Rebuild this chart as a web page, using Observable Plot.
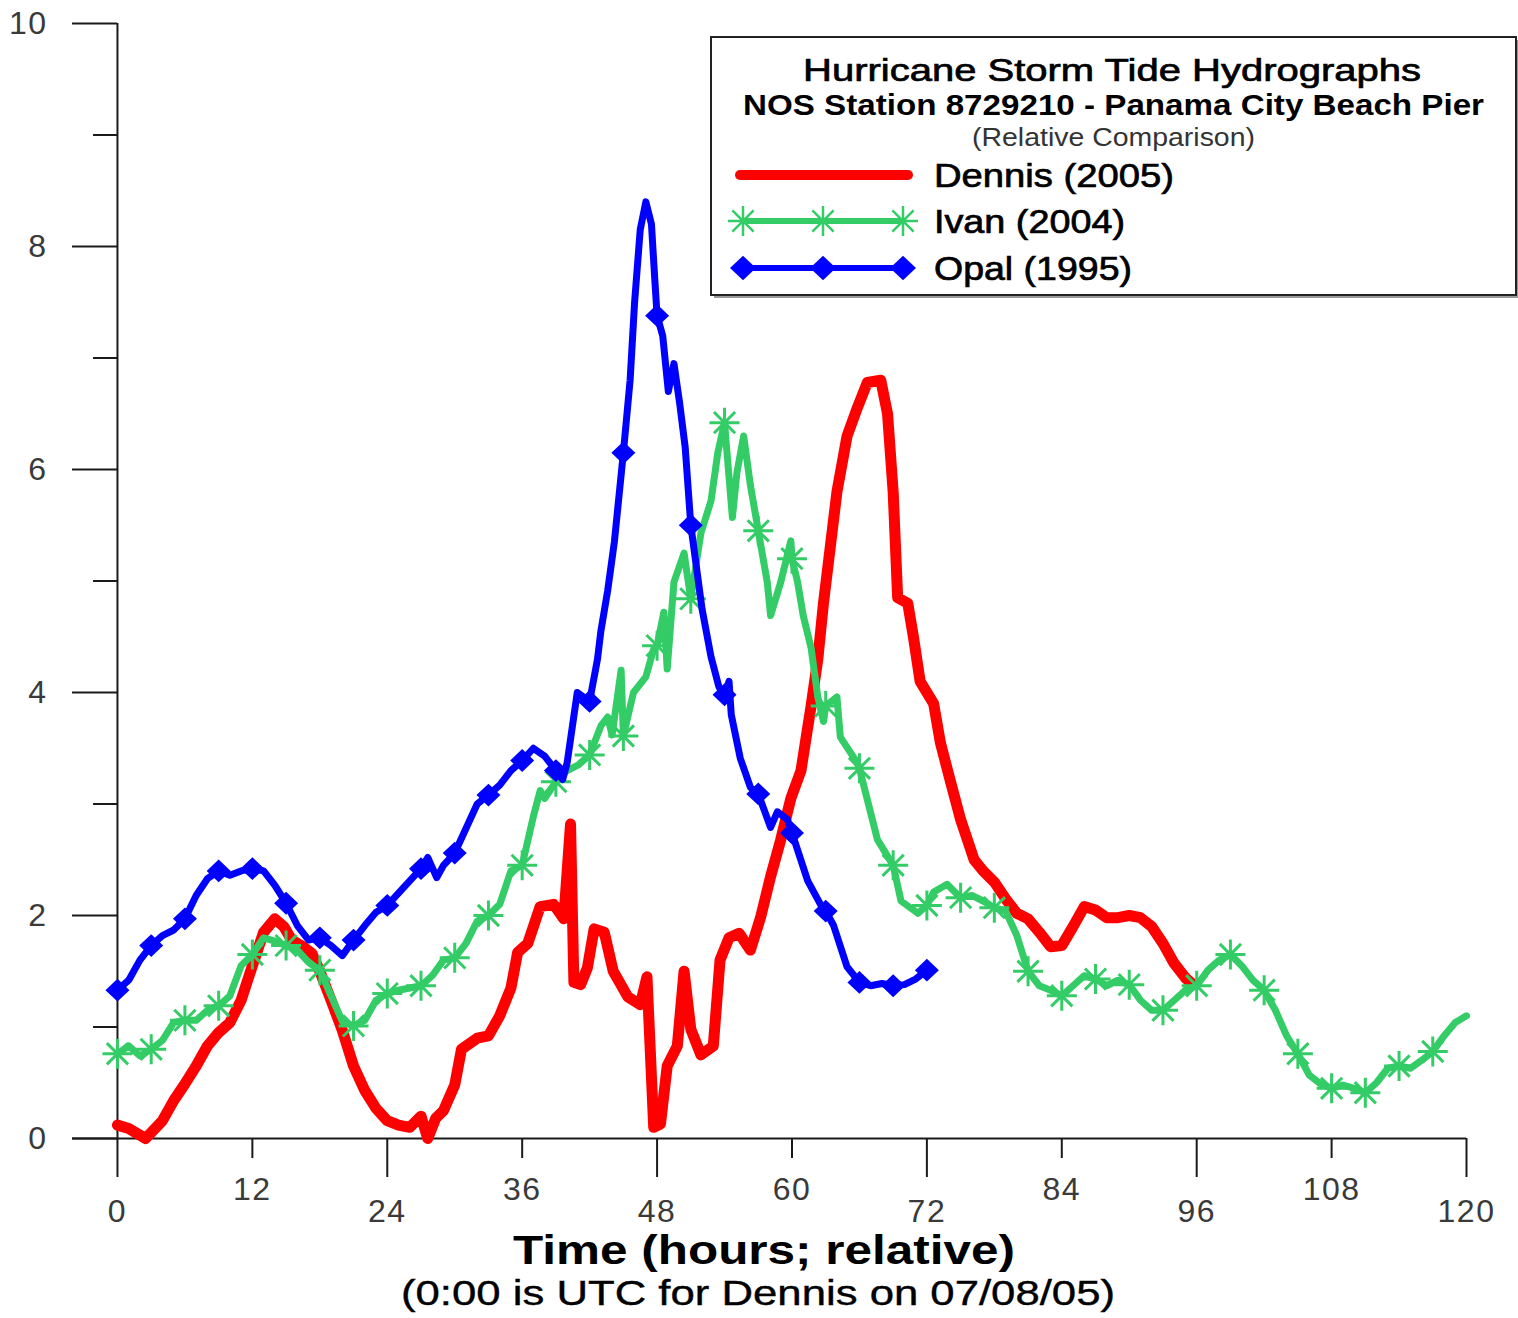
<!DOCTYPE html>
<html><head><meta charset="utf-8">
<script src="https://cdn.jsdelivr.net/npm/d3@7"></script>
<script src="https://cdn.jsdelivr.net/npm/@observablehq/plot@0.6"></script>
<style>
html,body{margin:0;padding:0;background:#fff;}
#wrap{position:relative;width:1518px;height:1318px;overflow:hidden;background:#fff;}
#overlay{position:absolute;left:0;top:0;pointer-events:none;}
</style></head><body><div id="wrap"></div>
<script>
// ---- Data ----
const seriesNames = ["Dennis (2005)", "Ivan (2004)", "Opal (1995)"];
const seriesColors = ["#ff0000", "#33cc66", "#0000ff"];

const dennisHours = [0,1,2.5,4,5,6,7,8,9,10,11,12,13,14,14.8,15.5,16.5,17.3,18,19,20,21,22,23,24,25,26,27,27.6,28.3,29,30,30.6,32,33,34,35,35.6,36.5,37.6,38.8,39.7,40.3,40.6,41.2,41.8,42.4,43.3,44.1,45.4,46.5,47.1,47.7,48.3,48.9,49.8,50.4,51,51.9,53,53.6,54.4,55.3,56.3,57.2,58.1,59,59.9,60.8,61.7,62.3,62.8,63.4,64,64.9,65.8,66.7,67.9,68.5,69,69.4,70.3,70.8,71.4,72.6,73.2,74.1,75,76.2,77,78,79,80,81,82,83,84,85,86,87,88,89,90,91,92,93,94,95,95.7];
const dennisLevels = [0.12,0.09,0.0,0.16,0.34,0.49,0.65,0.83,0.95,1.04,1.24,1.55,1.85,1.97,1.9,1.78,1.72,1.66,1.5,1.24,0.97,0.65,0.43,0.27,0.16,0.12,0.1,0.2,0.0,0.18,0.25,0.48,0.8,0.9,0.92,1.1,1.35,1.67,1.75,2.08,2.1,1.97,2.82,1.4,1.38,1.53,1.88,1.85,1.5,1.27,1.2,1.45,0.1,0.13,0.65,0.83,1.5,0.98,0.75,0.83,1.6,1.8,1.84,1.69,1.98,2.35,2.68,3.05,3.3,3.88,4.3,4.8,5.3,5.8,6.3,6.55,6.78,6.8,6.5,5.8,4.85,4.8,4.5,4.1,3.9,3.55,3.2,2.86,2.5,2.4,2.3,2.15,2.02,1.97,1.85,1.72,1.73,1.9,2.08,2.05,1.98,1.98,2.0,1.98,1.9,1.75,1.57,1.44,1.38];

const ivanHours = [0,1,2,3,4,5,6,7,8,9,10,11,12,13,14,15,16,17,18,19,20,21,22,23,24,25,26,27,28,29,30,31,32,33,34,35,36,37,37.6,38,39,40,41,42,43,43.6,44,44.8,45,45.9,47,47.7,48,48.6,48.9,49.5,50.4,51,51.9,52.8,53.4,54,54.7,55.1,55.7,56.3,57,57.8,58.1,59,59.9,60,60.5,61,61.7,62.3,62.8,63,64,64.3,65.8,66,66.7,67.6,69,69.7,71.2,72,72.6,73.8,75,76,77,78,79,80,81,82,83,84,85,86,87,88,89,90,91,92,93,94,95,96,97,98,99,100,101,102,103,104,105,106,107,108,109,110,111,112,113,114,115,116,117,118,119,120];
const ivanLevels = [0.76,0.83,0.74,0.8,0.88,1.04,1.06,1.06,1.15,1.19,1.28,1.55,1.65,1.8,1.77,1.73,1.69,1.58,1.51,1.28,1.05,1.01,1.06,1.24,1.3,1.33,1.35,1.37,1.46,1.6,1.62,1.75,1.95,2.0,2.1,2.4,2.45,2.89,3.12,3.05,3.2,3.3,3.35,3.44,3.7,3.78,3.62,4.2,3.61,4.0,4.14,4.39,4.42,4.72,4.21,4.99,5.25,4.84,5.43,5.72,6.15,6.42,5.57,5.97,6.3,5.86,5.45,4.99,4.69,4.99,5.36,5.2,4.99,4.69,4.4,3.96,3.74,3.88,3.96,3.6,3.37,3.32,3.04,2.68,2.45,2.13,2.02,2.09,2.21,2.28,2.16,2.18,2.13,2.07,2.04,1.82,1.5,1.37,1.33,1.28,1.37,1.46,1.43,1.37,1.42,1.38,1.24,1.15,1.15,1.24,1.33,1.37,1.51,1.6,1.65,1.55,1.42,1.33,1.15,0.92,0.76,0.57,0.49,0.45,0.48,0.45,0.41,0.5,0.63,0.65,0.63,0.7,0.78,0.92,1.04,1.1];
const ivanMarkerHours = [0,3,6,9,12,15,18,21,24,27,30,33,36,39,42,45,48,51,54,57,60,63,66,69,72,75,78,81,84,87,90,93,96,99,102,105,108,111,114,117];

const opalHours = [0,1,2,3,4,5,6,7,8,9,10,11,12,13,14,15,16,17,18,19,20,21,22,23,24,25,26,27,27.6,28.4,29,30,31,32,33,34,35,36,37,38,39,39.6,40,40.9,42,42.7,43,43.6,44.2,45,45.6,46,46.5,47,47.5,47.8,48,48.5,49,49.5,50,50.5,51,52,52.8,53.5,54,54.4,54.6,55.4,56.3,57,58.1,58.7,59.6,60,61.4,62.8,63,63.7,64.9,66,67,68,69,70,71,72];
const opalLevels = [1.33,1.42,1.6,1.73,1.82,1.87,1.97,2.18,2.33,2.4,2.36,2.4,2.42,2.4,2.27,2.11,1.91,1.78,1.8,1.73,1.64,1.78,1.91,2.03,2.09,2.2,2.31,2.42,2.52,2.34,2.45,2.56,2.78,3.0,3.08,3.17,3.3,3.39,3.5,3.43,3.3,3.22,3.37,4.0,3.92,4.3,4.55,4.91,5.35,6.15,6.8,7.5,8.15,8.4,8.2,7.7,7.38,7.2,6.7,6.95,6.6,6.2,5.5,4.75,4.32,4.05,3.98,4.1,3.8,3.41,3.15,3.09,2.79,2.93,2.86,2.74,2.31,2.05,2.04,1.91,1.54,1.4,1.37,1.39,1.37,1.38,1.43,1.51];
const opalMarkerHours = [0,3,6,9,12,15,18,21,24,27,30,33,36,39,42,45,48,51,54,57,60,63,66,69,72];

const xMajorTicks = [0,24,48,72,96,120];
const xMinorTicks = [12,36,60,84,108];
const yMajorTicks = [0,2,4,6,8,10];
const yMinorTicks = [1,3,5,7,9];

const legendTitle = "Hurricane Storm Tide Hydrographs";
const legendSubtitle = "NOS Station 8729210 - Panama City Beach Pier";
const legendNote = "(Relative Comparison)";
const xTitle = "Time (hours; relative)";
const xSubtitle = "(0:00 is UTC for Dennis on 07/08/05)";

// ---- Build ----
const W = 1518, H = 1318;
const rows = (hs, vs) => hs.map((h, i) => ({h, v: vs[i]}));
const dennis = rows(dennisHours, dennisLevels);
const ivan = rows(ivanHours, ivanLevels);
const opal = rows(opalHours, opalLevels);
const ivanMarks = ivan.filter(d => ivanMarkerHours.includes(d.h));
const opalMarks = opal.filter(d => opalMarkerHours.includes(d.h));

const asteriskSymbol = {draw(ctx, size) {
  const r = Math.sqrt(size / Math.PI), k = r * Math.SQRT1_2;
  ctx.moveTo(-r, 0); ctx.lineTo(r, 0);
  ctx.moveTo(0, -r); ctx.lineTo(0, r);
  ctx.moveTo(-k, -k); ctx.lineTo(k, k);
  ctx.moveTo(-k, k); ctx.lineTo(k, -k);
}};
const diamondSymbol = {draw(ctx, size) {
  const r = Math.sqrt(size / Math.PI);
  ctx.moveTo(0, -r * 0.95); ctx.lineTo(r, 0); ctx.lineTo(0, r * 0.95); ctx.lineTo(-r, 0); ctx.closePath();
}};

const axisInk = "#1a1a1a", labelInk = "#3a3a3a";
const chart = Plot.plot({
  width: W, height: H,
  marginLeft: 72, marginRight: 52, marginTop: 23, marginBottom: 180,
  x: {domain: [-4, 120]},
  y: {domain: [0, 10]},
  style: {fontFamily: "'Liberation Sans', Arial, sans-serif", fontSize: "32px", color: labelInk, background: "#fff", letterSpacing: "1.5px", overflow: "visible"},
  marks: [
    Plot.ruleY([0], {stroke: axisInk, strokeWidth: 2}),
    Plot.ruleX([0], {stroke: axisInk, strokeWidth: 2}),
    Plot.axisX({ticks: xMajorTicks, tickSize: 39, tickPadding: 22, tickFormat: d => String(d), label: null, stroke: axisInk, strokeWidth: 2, fill: labelInk}),
    Plot.axisX({ticks: xMinorTicks, tickSize: 20, tickPadding: 19, tickFormat: d => String(d), label: null, stroke: axisInk, strokeWidth: 2, fill: labelInk}),
    Plot.axisY({ticks: yMajorTicks, tickSize: 45, tickPadding: 25, dx: 45, tickFormat: d => String(d), label: null, stroke: axisInk, strokeWidth: 2, fill: labelInk}),
    Plot.axisY({ticks: yMinorTicks, tickSize: 24, dx: 45, tickFormat: () => "", label: null, stroke: axisInk, strokeWidth: 2}),
    Plot.line(dennis, {x: "h", y: "v", stroke: seriesColors[0], strokeWidth: 11, strokeLinejoin: "round", strokeLinecap: "round"}),
    Plot.line(ivan, {x: "h", y: "v", stroke: seriesColors[1], strokeWidth: 7, strokeLinejoin: "round"}),
    Plot.dot(ivanMarks, {x: "h", y: "v", symbol: asteriskSymbol, r: 15, stroke: seriesColors[1], strokeWidth: 3, fill: "none"}),
    Plot.line(opal, {x: "h", y: "v", stroke: seriesColors[2], strokeWidth: 7, strokeLinejoin: "round"}),
    Plot.dot(opalMarks, {x: "h", y: "v", symbol: diamondSymbol, r: 12, fill: seriesColors[2], stroke: "none"})
  ]
});
const wrap = document.getElementById("wrap");
wrap.appendChild(chart);

// ---- Overlay: legend box and axis titles ----
const ov = d3.select(wrap).append("svg").attr("id", "overlay").attr("width", W).attr("height", H)
  .style("font-family", "'Liberation Sans', Arial, sans-serif");

ov.append("rect").attr("x", 714).attr("y", 40).attr("width", 805).attr("height", 258).attr("fill", "#999");
ov.append("rect").attr("x", 711).attr("y", 37).attr("width", 805).attr("height", 258)
  .attr("fill", "#fff").attr("stroke", "#222").attr("stroke-width", 2);

function txt(s, x, y, size, len, opts = {}) {
  const t = ov.append("text").attr("x", x).attr("y", y).attr("font-size", size)
    .attr("font-weight", opts.weight || "normal").attr("fill", opts.fill || "#000")
    .attr("textLength", len).attr("lengthAdjust", "spacingAndGlyphs").text(s);
  if (opts.heavy) t.attr("stroke", opts.fill || "#000").attr("stroke-width", opts.heavy);
}
txt(legendTitle, 803, 81, 32, 618, {heavy: 0.7});
txt(legendSubtitle, 743, 115, 29, 741, {weight: "bold"});
txt(legendNote, 972, 146, 25, 283, {fill: "#333"});

const legendY = [175, 221, 268];
const legendLen = [240, 191, 198];
// Dennis swatch
ov.append("line").attr("x1", 740).attr("x2", 908).attr("y1", legendY[0]).attr("y2", legendY[0])
  .attr("stroke", seriesColors[0]).attr("stroke-width", 10).attr("stroke-linecap", "round");
// Ivan swatch
ov.append("line").attr("x1", 743).attr("x2", 903).attr("y1", legendY[1]).attr("y2", legendY[1])
  .attr("stroke", seriesColors[1]).attr("stroke-width", 6);
[743, 823, 903].forEach(cx => {
  const p = d3.path(); asteriskSymbol.draw(p, Math.PI * 15 * 15);
  ov.append("path").attr("d", p.toString()).attr("transform", `translate(${cx},${legendY[1]})`)
    .attr("stroke", seriesColors[1]).attr("stroke-width", 2.5).attr("fill", "none");
});
// Opal swatch
ov.append("line").attr("x1", 743).attr("x2", 903).attr("y1", legendY[2]).attr("y2", legendY[2])
  .attr("stroke", seriesColors[2]).attr("stroke-width", 6);
[743, 823, 903].forEach(cx => {
  const p = d3.path(); diamondSymbol.draw(p, Math.PI * 13 * 13);
  ov.append("path").attr("d", p.toString()).attr("transform", `translate(${cx},${legendY[2]})`)
    .attr("fill", seriesColors[2]);
});
seriesNames.forEach((n, i) => txt(n, 934, legendY[i] + 12, 33, legendLen[i], {heavy: 0.7}));

txt(xTitle, 513, 1264, 40, 502, {weight: "bold"});
txt(xSubtitle, 401, 1305, 35, 714, {heavy: 0.4});
</script></body></html>
